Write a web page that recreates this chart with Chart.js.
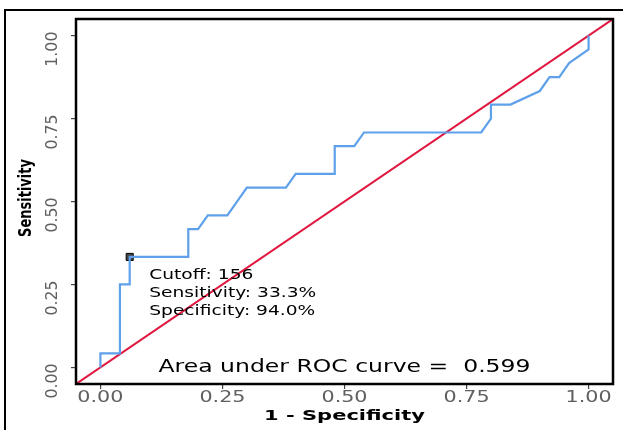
<!DOCTYPE html>
<html>
<head>
<meta charset="utf-8">
<script src="https://cdn.jsdelivr.net/npm/chart.js@4"></script>
<style>
  html, body { margin: 0; padding: 0; background: #fff; }
  #wrap { position: relative; width: 623px; height: 430px; }
</style>
</head>
<body>
<div id="wrap"><canvas id="roc"></canvas></div>
<script>
(function () {
    "use strict";

    // ROC curve (1 - specificity, sensitivity)
    const fpr = [0, 0, 0.04, 0.04, 0.06, 0.06, 0.18, 0.18, 0.20, 0.22, 0.26, 0.30, 0.38, 0.40,
        0.48, 0.48, 0.52, 0.54, 0.78, 0.80, 0.80, 0.84, 0.90, 0.92, 0.94, 0.96, 1.00, 1.00];
    const tpr = [0, 0.042, 0.042, 0.25, 0.25, 0.333, 0.333, 0.417, 0.417, 0.458, 0.458, 0.542, 0.542, 0.583,
        0.583, 0.667, 0.667, 0.708, 0.708, 0.75, 0.792, 0.792, 0.833, 0.875, 0.875, 0.917, 0.958, 1.0];

    // reference diagonal, spans the full panel
    const diagX = [-0.05, 1.05];
    const diagY = [-0.05, 1.05];

    // chosen cutoff
    const cutoffX = [0.06];
    const cutoffY = [0.333];
    const cutoffLines = ["Cutoff: 156", "Sensitivity: 33.3%", "Specificity: 94.0%"];
    const aucLabel = "Area under ROC curve =  0.599";

    const tickValues = [0, 0.25, 0.5, 0.75, 1];
    const tickLabels = ["0.00", "0.25", "0.50", "0.75", "1.00"];

    const FONT = "'DejaVu Sans', sans-serif";

    function pts(xs, ys) {
        return xs.map((x, i) => ({ x: x, y: ys[i] }));
    }

    // text stretched horizontally (the source image is widened)
    function wideText(ctx, str, x, y, sx, sy) {
        ctx.save();
        ctx.translate(x, y);
        ctx.scale(sx, sy || 1);
        ctx.fillText(str, 0, 0);
        ctx.restore();
    }

    const textPlugin = {
        id: "rocText",
        afterDraw(chart) {
            const ctx = chart.ctx;
            const xs = chart.scales.x;
            const ys = chart.scales.y;
            const a = chart.chartArea;

            ctx.save();
            // outer frame
            ctx.strokeStyle = "#000";
            ctx.lineWidth = 2;
            ctx.strokeRect(5, 10, 700, 500);
            // panel border
            ctx.lineWidth = 2.5;
            ctx.strokeRect(a.left, a.top, a.right - a.left, a.bottom - a.top);

            // x tick labels
            ctx.fillStyle = "#606060";
            ctx.font = "15px " + FONT;
            ctx.textAlign = "center";
            ctx.textBaseline = "middle";
            tickLabels.forEach((t, i) => {
                wideText(ctx, t, xs.getPixelForValue(tickValues[i]), 398, 1.38);
            });

            // y tick labels, rotated
            ctx.textAlign = "right";
            tickLabels.forEach((t, i) => {
                ctx.save();
                ctx.translate(53, ys.getPixelForValue(tickValues[i]) - 4);
                ctx.rotate(-Math.PI / 2);
                ctx.scale(1.05, 1.1);
                ctx.fillText(t, 0, 0);
                ctx.restore();
            });

            // axis titles
            ctx.fillStyle = "#000";
            ctx.font = "bold 14px " + FONT;
            ctx.textAlign = "center";
            wideText(ctx, "1 - Specificity", (a.left + a.right) / 2, 416, 1.5, 1.05);
            ctx.save();
            ctx.translate(27, 198);
            ctx.rotate(-Math.PI / 2);
            ctx.font = "bold 13px " + FONT;
            ctx.scale(1.0, 1.3);
            ctx.fillText("Sensitivity", 0, 0);
            ctx.restore();

            // cutoff annotation
            ctx.font = "13.5px " + FONT;
            ctx.textAlign = "left";
            const ax = xs.getPixelForValue(0.1);
            const ay = ys.getPixelForValue(0.278);
            cutoffLines.forEach((t, i) => {
                wideText(ctx, t, ax, ay + i * 18, 1.38);
            });

            // AUC
            ctx.font = "17px " + FONT;
            ctx.textAlign = "center";
            const w = ctx.measureText(aucLabel).width;
            wideText(ctx, aucLabel, xs.getPixelForValue(0.5), ys.getPixelForValue(0.0), 372 / w, 1.05);
            ctx.restore();
        },
    };

    const ctx = document.getElementById("roc").getContext("2d");
    new Chart(ctx, {
        type: "scatter",
        data: {
            datasets: [
                {
                    data: pts(fpr, tpr),
                    showLine: true,
                    borderColor: "#5ea1ea",
                    borderWidth: 2.2,
                    pointRadius: 0,
                    tension: 0,
                },
                {
                    data: pts(diagX, diagY),
                    showLine: true,
                    borderColor: "#e0173f",
                    borderWidth: 2,
                    pointRadius: 0,
                },
                {
                    data: pts(cutoffX, cutoffY),
                    pointStyle: "rect",
                    pointRadius: 5,
                    backgroundColor: "#444",
                    borderColor: "#000",
                    borderWidth: 1,
                },
                {
                    data: pts(cutoffX, cutoffY),
                    pointStyle: "crossRot",
                    pointRadius: 4,
                    borderColor: "#ccc",
                    borderWidth: 1,
                },
            ],
        },
        options: {
            responsive: true,
            maintainAspectRatio: false,
            animation: false,
            layout: { padding: { top: 19, right: 10, left: 0, bottom: 0 } },
            plugins: {
                legend: { display: false },
                tooltip: { enabled: false },
            },
            scales: {
                x: {
                    type: "linear",
                    min: -0.05,
                    max: 1.05,
                    afterBuildTicks: (s) => { s.ticks = tickValues.map((v) => ({ value: v })); },
                    afterFit: (s) => { s.height = 46; },
                    ticks: { display: false },
                    border: { display: false },
                    grid: { drawOnChartArea: false, tickLength: 5, color: "#444", lineWidth: 1.2 },
                },
                y: {
                    type: "linear",
                    min: -0.05,
                    max: 1.05,
                    afterBuildTicks: (s) => { s.ticks = tickValues.map((v) => ({ value: v })); },
                    afterFit: (s) => { s.width = 76; },
                    ticks: { display: false },
                    border: { display: false },
                    grid: { drawOnChartArea: false, tickLength: 5, color: "#444", lineWidth: 1.2 },
                },
            },
        },
        plugins: [textPlugin],
    });
})();
</script>
</body>
</html>
